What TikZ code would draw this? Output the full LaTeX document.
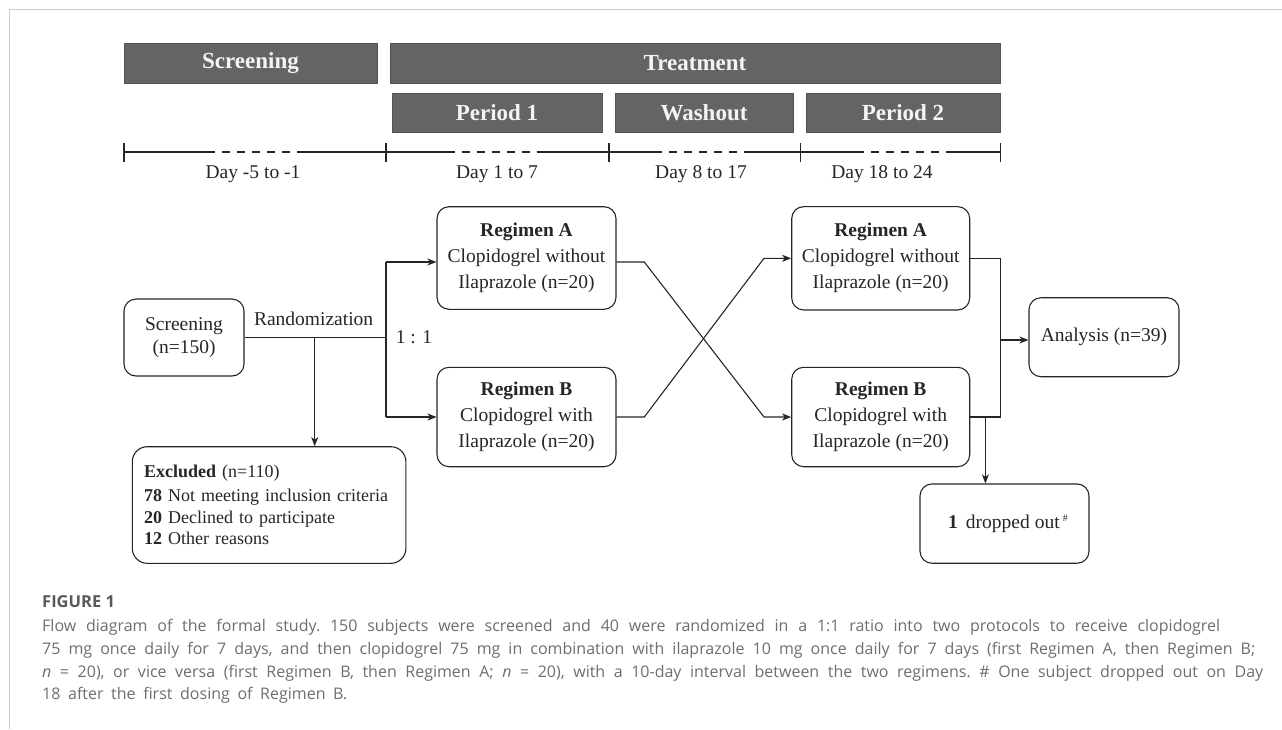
\documentclass[tikz,border=0pt]{standalone}
\usepackage{fontspec}
\setmainfont{Liberation Serif}
\newfontfamily\capfont{Open Sans}
\usetikzlibrary{arrows.meta}
\definecolor{barfill}{HTML}{646464}
\definecolor{bardraw}{HTML}{545454}
\definecolor{linecol}{HTML}{262626}
\definecolor{framecol}{HTML}{CCCCCC}
\definecolor{capcol}{HTML}{6D6E71}
\definecolor{capheadcol}{HTML}{58595B}
\definecolor{bartext}{HTML}{F4F4F4}
\newcommand{\capline}[2]{\hbox to #1pt{\frenchspacing\spaceskip=.26em plus .8em minus .1em #2}}
\begin{document}
\begin{tikzpicture}[x=1pt,y=-1pt,
  bar/.style={draw=bardraw, fill=barfill, line width=0.8pt, inner sep=0pt, text=bartext,
    font=\fontsize{23}{26}\selectfont\bfseries},
  box/.style={draw=linecol, line width=1.1pt, rounded corners=12pt, inner sep=0pt,
    align=center, text=linecol, font=\fontsize{19.5}{26}\selectfont},
  line/.style={draw=linecol, line width=1.1pt},
  arr/.style={line, -{Stealth[length=9pt,width=7pt,inset=2.5pt]}},
  lbl/.style={inner sep=0pt, text=linecol, font=\fontsize{19.5}{23}\selectfont},
  tick/.style={draw=linecol, line width=1.1pt},
  dashpart/.style={draw=linecol, line width=1.1pt, dash pattern=on 8pt off 7pt, dash phase=8pt},
  capstyle/.style={inner sep=0pt, anchor=base west, text=capcol, font=\capfont\fontsize{16}{18}\selectfont},
]
\useasboundingbox (0,0) rectangle (1282,729);
\fill[white] (0,0) rectangle (1282,729);
\draw[framecol, line width=1.5pt] (9.5,729) -- (9.5,9.5) -- (1282,9.5);

% header bars
\node[bar, minimum width=253pt, minimum height=40pt] (hscr) at (250.5,63) {Screening};
\node[bar, minimum width=610pt, minimum height=40pt] (htrt) at (695,63) {Treatment};
\node[bar, minimum width=210pt, minimum height=39pt] (hp1) at (497,112.5) {Period 1};
\node[bar, minimum width=178pt, minimum height=39pt] (hwo) at (704,112.5) {Washout};
\node[bar, minimum width=194pt, minimum height=39pt] (hp2) at (903,112.5) {Period 2};

% timeline
\foreach \xa/\xb/\c in {124/386/256, 386/609/495.5, 609/800.7/703, 800.7/1000.7/905}{
  \draw[line] (\xa,152) -- (\c-41,152);
  \draw[dashpart] (\c-41,152) -- (\c+41,152);
  \draw[line] (\c+41,152) -- (\xb,152);
}
\foreach \xt in {124,386,609,800.7,1000.7}{
  \draw[tick] (\xt,143) -- (\xt,162);
}
\node[lbl] (d1) at (253,174) {Day -5 to -1};
\node[lbl] (d2) at (497,174) {Day 1 to 7};
\node[lbl] (d3) at (701,174) {Day 8 to 17};
\node[lbl] (d4) at (882,174) {Day 18 to 24};

% boxes
\node[box, minimum width=120pt, minimum height=77pt, font=\fontsize{19.5}{23.3}\selectfont] (scr) at (184,337.5) {\rule{0pt}{8pt}Screening\\(n=150)};
\node[box, minimum width=179pt, minimum height=102.6pt] (regA1) at (526.5,258) {\textbf{Regimen A}\\Clopidogrel without\\Ilaprazole (n=20)};
\node[box, minimum width=179pt, minimum height=99.4pt] (regB1) at (526.5,417) {\textbf{Regimen B}\\Clopidogrel with\\Ilaprazole (n=20)};
\node[box, minimum width=178pt, minimum height=103.3pt] (regA2) at (880.7,258.3) {\textbf{Regimen A}\\Clopidogrel without\\Ilaprazole (n=20)};
\node[box, minimum width=178pt, minimum height=99.4pt] (regB2) at (880.7,417) {\textbf{Regimen B}\\Clopidogrel with\\Ilaprazole (n=20)};
\node[box, minimum width=150pt, minimum height=79pt] (ana) at (1104,337.2) {Analysis (n=39)};
\node[box, minimum width=273.6pt, minimum height=116.6pt, rounded corners=15pt, align=left,
  text width=250pt, inner xsep=11.7pt, font=\fontsize{18}{21.3}\selectfont] (excl) at (269.1,505)
  {\textbf{Excluded} (n=110)\\[2.5pt]\textbf{78} Not meeting inclusion criteria\\\textbf{20} Declined to participate\\\textbf{12} Other reasons};
\node[box, minimum width=169pt, minimum height=79.3pt] (drop) at (1004.5,523.6)
  {\hspace*{7pt}\textbf{1}\, dropped out\,\raisebox{7pt}{\fontsize{10}{10}\selectfont\#}};

\node[lbl] (rand) at (313.6,319) {Randomization};
\node[lbl] (ratio) at (414,337) {1 : 1};

% connectors
\coordinate (split) at (386,337.5);
\coordinate (sA) at (386,262);
\coordinate (sB) at (386,417);
\coordinate (branch) at (314.7,337.5);
\draw[line] (scr.east) -- (split);
\draw[line] (sA) -- (sB);
\draw[arr] (sA) -- (sA -| regA1.west);
\draw[arr] (sB) -- (regB1.west);
\draw[arr] (branch) -- (branch |- excl.north);

\coordinate (xa1) at (644.3,262);
\coordinate (xa2) at (764,417);
\coordinate (xb1) at (644.3,417);
\coordinate (xb2) at (764,258.3);
\draw[arr] ([yshift=-4pt]regA1.east) -- (xa1) -- (xa2) -- (regB2.west);
\draw[arr] (regB1.east) -- (xb1) -- (xb2) -- (regA2.west);

\coordinate (mA) at (1000.4,258.3);
\coordinate (mB) at (1000.4,417);
\coordinate (merge) at (1000.4,340);
\coordinate (dropoff) at (985.4,417);
\draw[line] (regA2.east) -- (mA) -- (mB) -- (regB2.east);
\draw[arr] (merge) -- (merge -| ana.west);
\draw[arr] (dropoff) -- (dropoff |- drop.north);

% caption
\node[capstyle, text=capheadcol, font=\capfont\bfseries\fontsize{16.5}{18}\selectfont] (fig) at (42,607.8) {FIGURE 1};
\node[capstyle] (c1) at (42,631.7) {\capline{1178}{Flow diagram of the formal study. 150 subjects were screened and 40 were randomized in a 1:1 ratio into two protocols to receive clopidogrel}};
\node[capstyle] (c2) at (42,654.3) {\capline{1213}{75 mg once daily for 7 days, and then clopidogrel 75 mg in combination with ilaprazole 10 mg once daily for 7 days (first Regimen A, then Regimen B;}};
\node[capstyle] (c3) at (42,677) {\capline{1221}{\textit{n} = 20), or vice versa (first Regimen B, then Regimen A; \textit{n} = 20), with a 10-day interval between the two regimens. \# One subject dropped out on Day}};
\node[capstyle] (c4) at (42,699.6) {\capline{305}{18 after the first dosing of Regimen B.}};
\end{tikzpicture}
\end{document}
